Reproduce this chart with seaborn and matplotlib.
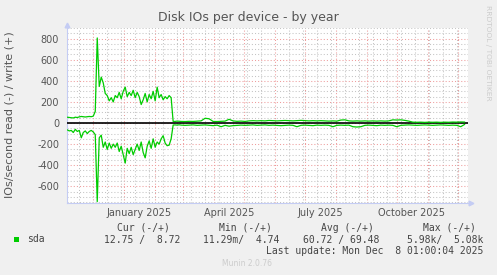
import numpy as np
import pandas as pd
import matplotlib
matplotlib.use('Agg')
import matplotlib.pyplot as plt
import matplotlib.dates as mdates
from matplotlib.patches import Rectangle
import seaborn as sns

# ---------------- data ----------------
dates_busy = pd.date_range('2024-11-05', periods=57, freq='2D')
write_busy = [55, 52, 50, 48, 55, 52, 58, 62,
              60, 57, 60, 62, 60, 65, 110, 806,
              346, 435, 380, 280, 260, 210, 240, 200,
              260, 240, 290, 230, 300, 340, 250, 290,
              260, 310, 240, 290, 250, 175, 220, 280,
              200, 270, 230, 300, 210, 340, 240, 270,
              220, 250, 230, 260, 240, 15, 15, 18,
              16]
read_busy = [65, 75, 70, 90, 60, 80, 70, 140,
             90, 75, 100, 80, 70, 85, 110, 745,
             140, 115, 230, 180, 250, 190, 240, 200,
             230, 190, 270, 220, 300, 380, 240, 290,
             230, 300, 250, 200, 260, 180, 280, 330,
             220, 170, 240, 150, 230, 180, 200, 150,
             120, 190, 215, 210, 150, 19, 18, 20,
             17]

dates_quiet = pd.date_range('2025-02-27', periods=72, freq='4D')
write_quiet = [15, 14, 16, 15, 18, 20, 45, 40,
               15, 14, 16, 18, 35, 20, 16, 18,
               15, 20, 22, 20, 22, 20, 24, 22,
               20, 22, 24, 22, 20, 22, 25, 22,
               20, 22, 20, 22, 20, 18, 20, 18,
               28, 30, 20, 18, 20, 18, 20, 18,
               20, 18, 20, 18, 20, 30, 28, 30,
               25, 18, 8, 7, 8, 6, 8, 7,
               8, 6, 8, 7, 9, 8, 10, 9]
read_quiet = [20, 22, 20, 18, 22, 20, 18, 22,
              25, 20, 35, 22, 30, 25, 22, 20,
              22, 20, 18, 22, 20, 18, 22, 20,
              22, 25, 22, 20, 22, 35, 22, 20,
              22, 25, 20, 22, 20, 22, 35, 22,
              20, 22, 20, 35, 38, 35, 22, 20,
              22, 25, 20, 22, 20, 22, 35, 22,
              20, 18, 20, 22, 20, 18, 20, 22,
              20, 18, 20, 22, 20, 22, 35, 13]

x_label_texts = ['January 2025', 'April 2025', 'July 2025', 'October 2025']
x_label_dates = ['2025-01-16', '2025-04-16', '2025-07-16', '2025-10-16']

legend_name = 'sda'
legend_headers = ['Cur (-/+)', 'Min (-/+)', 'Avg (-/+)', 'Max (-/+)']
legend_values = ['12.75 /  8.72', '11.29m/  4.74', '60.72 / 69.48', '5.98k/  5.08k']
last_update = 'Last update: Mon Dec  8 01:00:04 2025'
title = 'Disk IOs per device - by year'
ylabel = 'IOs/second read (-) / write (+)'

# ---------------- frame ----------------
df = pd.DataFrame({
    'date': list(dates_busy) + list(dates_quiet),
    'write': write_busy + write_quiet,
    'read': read_busy + read_quiet,
})
df['read_neg'] = -df['read']

sns.set_style('white')
plt.rcParams['font.family'] = ['DejaVu Sans']

W, H = 497, 275
fig = plt.figure(figsize=(W / 100, H / 100), dpi=100, facecolor='#F0F0F0')
L, R, T, B = 67, 468, 27.5, 203
ax = fig.add_axes([L / W, (H - B) / H, (R - L) / W, (B - T) / H])
ax.set_facecolor('white')

GREEN = '#00CC00'
sns.lineplot(data=df, x='date', y='write', ax=ax, color=GREEN, lw=0.9, zorder=4)
sns.lineplot(data=df, x='date', y='read_neg', ax=ax, color=GREEN, lw=0.9, zorder=4)
ax.axhline(0, color='black', lw=1.2, zorder=3)

ax.set_xlabel('')
ax.set_ylabel('')

xmin = mdates.date2num(pd.Timestamp('2024-11-04 17:00').to_pydatetime())
xmax = mdates.date2num(pd.Timestamp('2025-12-11 07:00').to_pydatetime())
ax.set_xlim(xmin, xmax)
ax.set_ylim(-758, 905)

# grid
month_starts = pd.date_range('2024-12-01', '2025-12-01', freq='MS')
biweekly = pd.date_range('2024-11-17', '2025-12-10', freq='14D')
ax.set_xticks(mdates.date2num(month_starts.to_pydatetime()))
ax.set_xticks(mdates.date2num(biweekly.to_pydatetime()), minor=True)
ax.set_xticklabels([])
ax.set_yticks(np.arange(-600, 801, 200))
ax.set_yticks(np.arange(-750, 901, 50), minor=True)
ax.set_yticklabels([str(v) for v in np.arange(-600, 801, 200)])

ax.grid(which='major', color='#EE9C9C', linestyle=(0, (1, 2)), lw=0.75, zorder=1)
ax.grid(which='minor', color='#C4C4C4', linestyle=(0, (1, 2)), lw=0.75, zorder=0.9)

ax.tick_params(which='both', direction='out', length=2, width=0.7, color='#BBBBBB')
ax.tick_params(axis='y', which='major', labelsize=7, labelcolor='#555555', pad=3.6)
ax.tick_params(axis='x', which='both', labelsize=7)

AXC = '#C4CCF4'
for s in ['top', 'right']:
    ax.spines[s].set_visible(False)
for s in ['left', 'bottom']:
    ax.spines[s].set_color(AXC)
    ax.spines[s].set_linewidth(0.8)
ax.plot([0], [1 + 3 / (B - T)], marker='^', markersize=3.4, color=AXC,
        transform=ax.transAxes, clip_on=False)
ax.plot([1 + 3 / (R - L)], [0], marker='>', markersize=3.4, color=AXC,
        transform=ax.transAxes, clip_on=False)

for d, txt in zip(x_label_dates, x_label_texts):
    ax.text(mdates.date2num(pd.Timestamp(d).to_pydatetime()), -9.5 / (B - T), txt,
            transform=ax.get_xaxis_transform(), ha='center', va='center',
            fontsize=7, color='#555555')

# titles
def fx(x):
    return x / W

def fy(y):
    return 1 - y / H

fig.text(fx(248), fy(18), title, ha='center', va='center', fontsize=9, color='#555555')
fig.text(fx(10), fy(115), ylabel, ha='center', va='center', rotation=90,
         fontsize=8, color='#555555')
fig.text(fx(488), fy(53), 'RRDTOOL / TOBI OETIKER', ha='center', va='center',
         rotation=270, fontsize=5.4, color='#CCCCCC')

# legend
mono = 'DejaVu Sans Mono'
TC = '#444444'
head_x = [116.7, 218.7, 321, 422.7]
val_x = [104.3, 203.3, 302.7, 407.3]
for x, t in zip(head_x, legend_headers):
    fig.text(fx(x), fy(228), t, ha='left', va='center', fontsize=7, family=mono, color=TC)
for x, t in zip(val_x, legend_values):
    fig.text(fx(x), fy(239.5), t, ha='left', va='center', fontsize=7, family=mono, color=TC)
fig.patches.append(Rectangle((fx(14), fy(242)), 5.3 / W, 5.3 / H, transform=fig.transFigure,
                             facecolor=GREEN, edgecolor='none'))
fig.text(fx(26.7), fy(239.5), legend_name, ha='left', va='center', fontsize=7, family=mono, color=TC)
fig.text(fx(483.5), fy(251.2), last_update, ha='right', va='center', fontsize=7,
         family=mono, color=TC)
fig.text(fx(247), fy(264), 'Munin 2.0.76', ha='center', va='center', fontsize=5.5,
         color='#CCCCCC')

fig.savefig('out.png', dpi=100, facecolor=fig.get_facecolor())
